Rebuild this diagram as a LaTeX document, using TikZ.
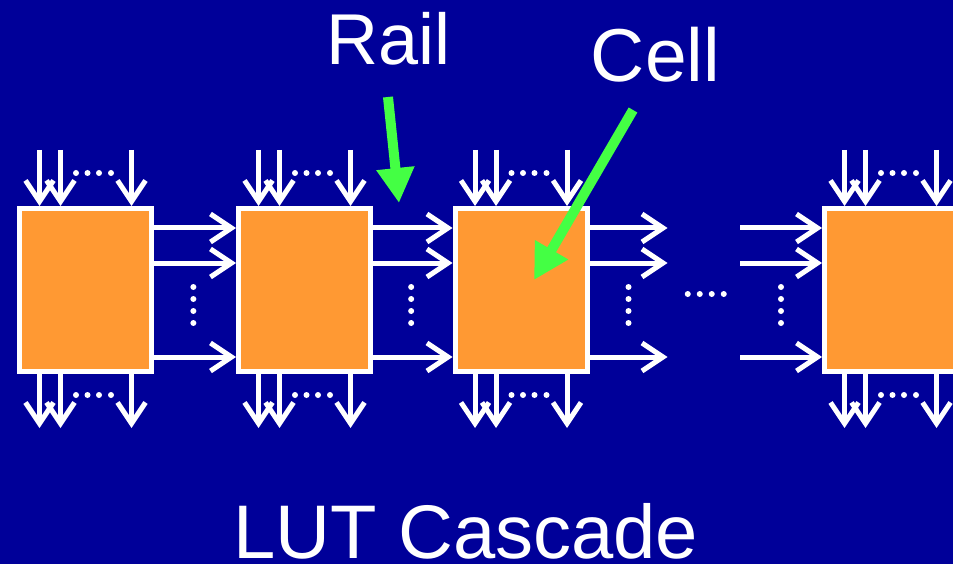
\documentclass[tikz,border=0pt]{standalone}
\usepackage{fontspec}
\setmainfont{Liberation Sans}
\usetikzlibrary{arrows.meta,calc,positioning}
\definecolor{slideblue}{RGB}{0,0,153}
\definecolor{cellorange}{RGB}{255,153,51}
\definecolor{pointgreen}{RGB}{68,255,68}

\begin{document}
\begin{tikzpicture}[x=1pt, y=-1pt,
    cell/.style={draw=white, line width=5pt, fill=cellorange, minimum width=132pt, minimum height=163pt},
    wire/.style={white, line width=5pt, -{Straight Barb[length=21pt, width=28pt]}},
    pointer/.style={pointgreen, line width=10pt, -{Triangle[length=35pt, width=36pt]}},
    lbl/.style={white, anchor=base, inner sep=0pt}]
  % slide background
  \useasboundingbox (0,0) rectangle (953,564);
  \fill[slideblue] (0,0) rectangle (953,564);
  % LUT cells
  \foreach \i/\x in {1/85.5, 2/304.5, 3/521, 4/890.5}
    \node[cell] (c\i) at (\x,290) {};
  % inputs on top, outputs below
  \foreach \i in {1,...,4} {
    \foreach \dx in {-46,-25,46} {
      \draw[wire] ($(c\i.north)+(\dx,-56)$) -- ($(c\i.north)+(\dx,0)$);
      \draw[wire] ($(c\i.south)+(\dx,0)$) -- ($(c\i.south)+(\dx,54)$);
    }
    \foreach \dx in {-9.5,2,13.5,25.5} {
      \fill[white] ($(c\i.north)+(\dx,-33)$) circle (3pt);
      \fill[white] ($(c\i.south)+(\dx,21)$) circle (3pt);
    }
  }
  % rails between cells
  \coordinate (out3) at ($(c3.east)+(78,0)$);
  \coordinate (in4) at ($(c4.west)+(-82,0)$);
  \foreach \dy in {-62,-27,67} {
    \draw[wire] ($(c1.east)+(0,\dy)$) -- ($(c2.west)+(0,\dy)$);
    \draw[wire] ($(c2.east)+(0,\dy)$) -- ($(c3.west)+(0,\dy)$);
    \draw[wire] ($(c3.east)+(0,\dy)$) -- ($(out3)+(0,\dy)$);
    \draw[wire] ($(in4)+(0,\dy)$) -- ($(c4.west)+(0,\dy)$);
  }
  \foreach \dy in {-3,9,21,33} {
    \fill[white] ($(c1.east)!0.48!(c2.west)+(0,\dy)$) circle (3pt);
    \fill[white] ($(c2.east)!0.48!(c3.west)+(0,\dy)$) circle (3pt);
    \fill[white] ($(c3.east)!0.5!(out3)+(0,\dy)$) circle (3pt);
    \fill[white] ($(in4)!0.5!(c4.west)+(0,\dy)$) circle (3pt);
  }
  \foreach \dx in {-16,-4,8,20}
    \fill[white] ($(out3)!0.5!(in4)+(\dx,4)$) circle (3pt);
  % labels and pointers
  \node[lbl, font=\fontsize{72}{80}\selectfont] (rail) at (388.5,65) {Rail};
  \node[lbl, font=\fontsize{75}{84}\selectfont] (celltxt) at (655.5,82) {Cell};
  \node[lbl, font=\fontsize{76}{88}\selectfont] (title) at (466,558) {LUT Cascade};
  \coordinate (railfrom) at (388,97);
  \coordinate (railto) at (399,203);
  \coordinate (cellfrom) at (633,110);
  \coordinate (cellto) at (534,280);
  \draw[pointer] (railfrom) -- (railto);
  \draw[pointer] (cellfrom) -- (cellto);
\end{tikzpicture}
\end{document}
